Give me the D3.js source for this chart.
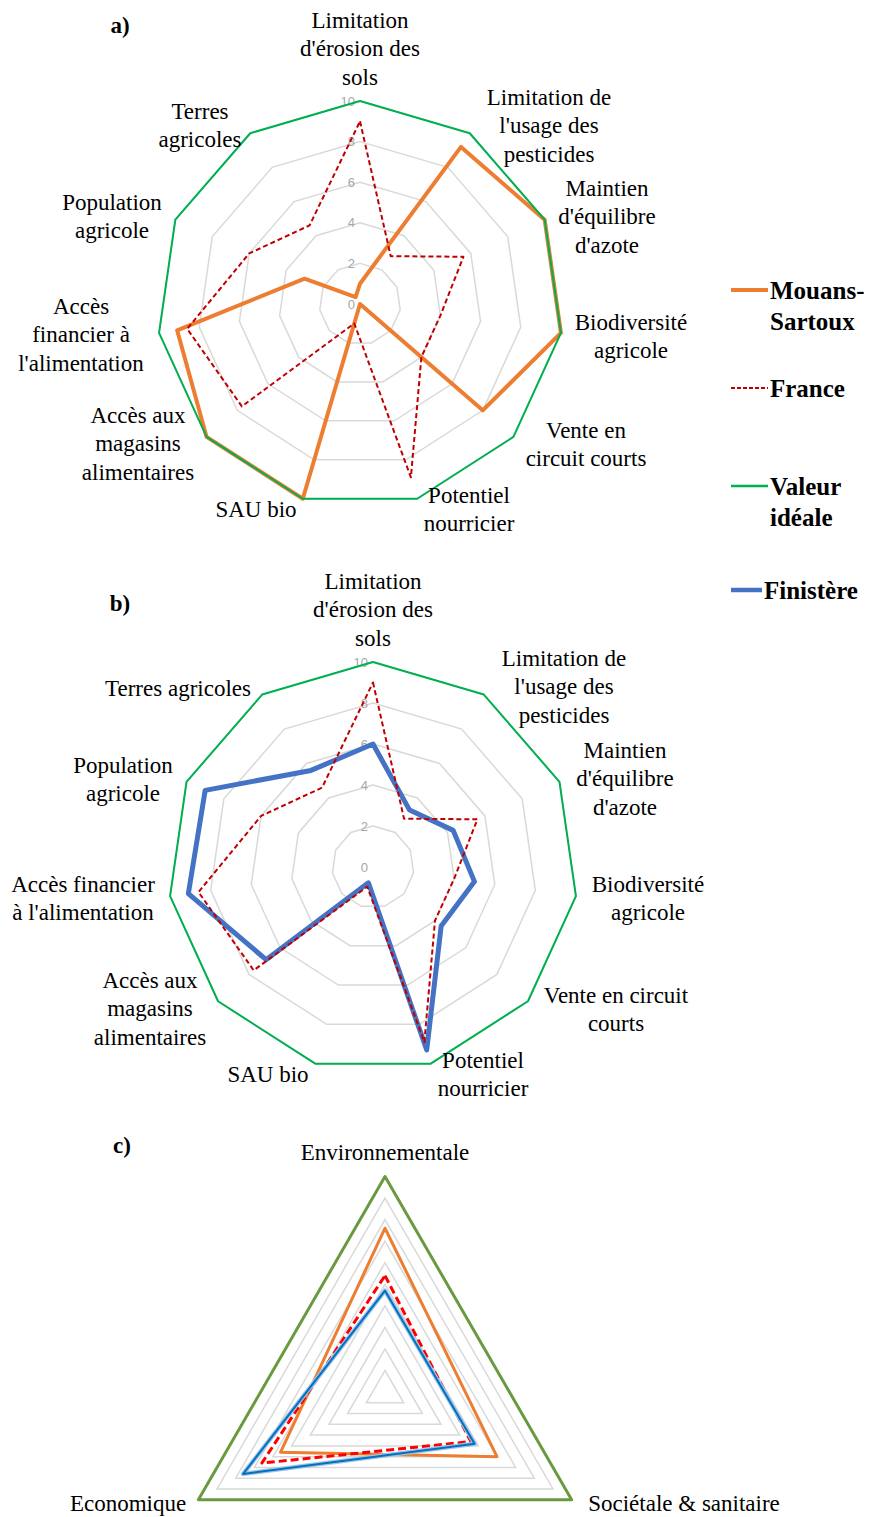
<!DOCTYPE html>
<html>
<head>
<meta charset="utf-8">
<script src="https://cdn.jsdelivr.net/npm/d3@7"></script>
<style>
  body { margin: 0; background: #fff; }
</style>
</head>
<body>
<div id="container"></div>
<script>
// DATA
const criteria = [
  "Limitation\nd'érosion des\nsols",
  "Limitation de\nl'usage des\npesticides",
  "Maintien\nd'équilibre\nd'azote",
  "Biodiversité\nagricole",
  "Vente en\ncircuit courts",
  "Potentiel\nnourricier",
  "SAU bio",
  "Accès aux\nmagasins\nalimentaires",
  "Accès\nfinancier à\nl'alimentation",
  "Population\nagricole",
  "Terres\nagricoles"
]
const criteriaB = [
  "Limitation\nd'érosion des\nsols",
  "Limitation de\nl'usage des\npesticides",
  "Maintien\nd'équilibre\nd'azote",
  "Biodiversité\nagricole",
  "Vente en circuit\ncourts",
  "Potentiel\nnourricier",
  "SAU bio",
  "Accès aux\nmagasins\nalimentaires",
  "Accès financier\nà l'alimentation",
  "Population\nagricole",
  "Terres agricoles"
]
const mouansSartoux = [1.0, 9.2, 10, 10, 8.0, 0, 10, 10, 9.1, 3.0, 0.4]
const france = [9.0, 2.8, 5.6, 4.0, 4.0, 8.9, 1.0, 7.7, 8.6, 6.0, 4.6]
const finistere = [6.0, 3.3, 4.3, 5.0, 4.4, 9.3, 0.8, 6.9, 9.1, 9.0, 5.6]
const ideal = [10, 10, 10, 10, 10, 10, 10, 10, 10, 10, 10]
const tickValues = [0, 2, 4, 6, 8, 10]

const dimensions = ['Environnementale', 'Sociétale & sanitaire', 'Economique']
const dimMouans = [7.6, 6.0, 5.6]
const dimFrance = [5.4, 4.6, 6.6]
const dimFinistere = [4.7, 4.8, 7.6]
const dimIdeal = [10, 10, 10]
const dimRings = [1, 2, 3, 4, 5, 6, 7, 8, 9]

const legendItems = ['Mouans-\nSartoux', 'France', 'Valeur\nidéale', 'Finistère']

// LAYOUT (label centres, first line)
const labelPosA = [[360, 20], [549, 97], [607, 188], [631, 322], [586, 430], [469, 495],
  [256, 509], [138, 415], [81, 306], [112, 202], [200, 111]]
const labelPosB = [[373, 581], [564, 658], [625, 750], [648, 884], [616, 995], [483, 1060],
  [268, 1074], [150, 980], [83, 884], [123, 765], [178, 688]]
const labelPosC = [[385, 1152], [684, 1503], [128, 1503]]

const serif = "'Liberation Serif', 'Times New Roman', serif"

const w = 877
const h = 1517

const svg = d3.select('#container')
  .append('svg')
  .attr('width', w)
  .attr('height', h)

svg.append('rect').attr('width', w).attr('height', h).attr('fill', '#fff')

function multiline(sel, txt, x, y, lh) {
  const t = sel.append('text')
    .attr('text-anchor', 'middle')
    .attr('font-family', serif)
    .attr('font-size', 23)
    .attr('fill', '#000')
  txt.split('\n').forEach((line, i) => {
    t.append('tspan')
      .attr('x', x)
      .attr('y', y + i * lh)
      .attr('dominant-baseline', 'central')
      .text(line)
  })
  return t
}

function radar(o) {
  const g = svg.append('g').attr('transform', `translate(${o.cx},${o.cy})`)
  const n = o.labels.length
  const r = d3.scaleLinear().domain([0, 10]).range([0, o.R])
  const line = d3.lineRadial()
    .angle((d, i) => i * 2 * Math.PI / n)
    .radius(d => r(d))
    .curve(d3.curveLinearClosed)

  //RINGS
  g.selectAll('.ring')
    .data(o.rings)
    .enter()
    .append('path')
    .attr('class', 'ring')
    .attr('d', v => line(d3.range(n).map(() => v)))
    .attr('fill', 'none')
    .attr('stroke', '#d9d9d9')
    .attr('stroke-width', 1.5)

  //TICK LABELS
  if (o.ticks) {
    g.selectAll('.tick')
      .data(o.ticks)
      .enter()
      .append('text')
      .attr('class', 'tick')
      .attr('x', -5)
      .attr('y', v => -r(v))
      .attr('text-anchor', 'end')
      .attr('dominant-baseline', 'central')
      .attr('font-size', 13)
      .attr('fill', '#a6a6a6')
      .attr('font-family', "'Liberation Sans', Arial, sans-serif")
      .text(v => v)
  }

  //SERIES
  o.series.forEach(s => {
    if (s.halo) {
      g.append('path')
        .attr('d', line(s.values))
        .attr('fill', 'none')
        .attr('stroke', s.halo)
        .attr('stroke-width', s.width + 2.5)
        .attr('stroke-linejoin', 'round')
    }
    g.append('path')
      .attr('d', line(s.values))
      .attr('fill', 'none')
      .attr('stroke', s.color)
      .attr('stroke-width', s.width)
      .attr('stroke-dasharray', s.dash || null)
      .attr('stroke-linejoin', 'round')
  })

  //AXIS LABELS
  o.labels.forEach((lab, i) => {
    multiline(svg, lab, o.labelPos[i][0], o.labelPos[i][1], 28.5)
  })
}

radar({
  cx: 360, cy: 304, R: 203,
  labels: criteria, labelPos: labelPosA,
  rings: [2, 4, 6, 8, 10], ticks: tickValues,
  series: [
    { values: mouansSartoux, color: '#ed7d31', width: 4 },
    { values: france, color: '#c00000', width: 2, dash: '5,3' },
    { values: ideal, color: '#00b050', width: 2 }
  ]
})

radar({
  cx: 373, cy: 867, R: 205,
  labels: criteriaB, labelPos: labelPosB,
  rings: [2, 4, 6, 8, 10], ticks: tickValues,
  series: [
    { values: finistere, color: '#4472c4', width: 5 },
    { values: france, color: '#c00000', width: 2, dash: '5,3' },
    { values: ideal, color: '#00b050', width: 2 }
  ]
})

radar({
  cx: 385, cy: 1392, R: 215.5,
  labels: dimensions, labelPos: labelPosC,
  rings: dimRings, ticks: null,
  series: [
    { values: dimMouans, color: '#ed7d31', width: 3 },
    { values: dimFrance, color: '#ff0000', width: 3, dash: '8,4' },
    { values: dimFinistere, color: '#0070c0', width: 2, halo: '#9dc3e6' },
    { values: dimIdeal, color: '#6a9a40', width: 3 }
  ]
})

//PANEL LETTERS
const letters = [['a)', 120, 25], ['b)', 120, 603], ['c)', 122, 1145]]
letters.forEach(l => {
  svg.append('text')
    .attr('x', l[1]).attr('y', l[2])
    .attr('text-anchor', 'middle')
    .attr('dominant-baseline', 'central')
    .attr('font-family', serif)
    .attr('font-size', 23)
    .attr('font-weight', 'bold')
    .attr('fill', '#000')
    .text(l[0])
})

//LEGEND
const legendStyle = [
  { color: '#ed7d31', width: 4 },
  { color: '#c00000', width: 2, dash: '4,2' },
  { color: '#00b050', width: 2.5 },
  { color: '#4472c4', width: 4.5 }
]
const legendY = [290, 388, 486, 590]
legendItems.forEach((txt, i) => {
  const st = legendStyle[i]
  const x1 = 731
  const x2 = i === 3 ? 762 : 768
  svg.append('line')
    .attr('x1', x1).attr('x2', x2)
    .attr('y1', legendY[i]).attr('y2', legendY[i])
    .attr('stroke', st.color)
    .attr('stroke-width', st.width)
    .attr('stroke-dasharray', st.dash || null)
  const t = svg.append('text')
    .attr('font-family', serif)
    .attr('font-size', 25)
    .attr('font-weight', 'bold')
    .attr('fill', '#000')
  txt.split('\n').forEach((line, j) => {
    t.append('tspan')
      .attr('x', x2 + 2)
      .attr('y', legendY[i] + j * 31)
      .attr('dominant-baseline', 'central')
      .text(line)
  })
})
</script>
</body>
</html>
